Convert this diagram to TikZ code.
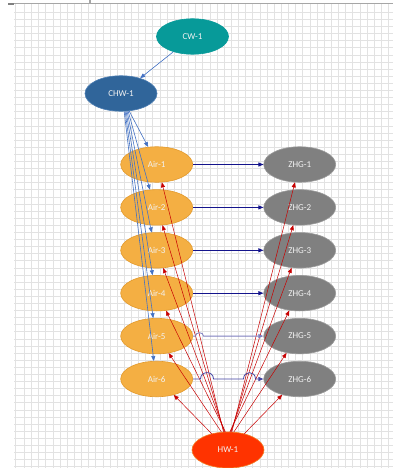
\documentclass[tikz,border=0pt]{standalone}
\usepackage{fontspec}
\setmainfont{Carlito}
\usetikzlibrary{shapes.geometric,arrows.meta}

\definecolor{gridline}{HTML}{E2E2E2}
\definecolor{frameline}{HTML}{A6A6A6}
\definecolor{cwfill}{HTML}{079A99}
\definecolor{chwfill}{HTML}{30659A}
\definecolor{chwedge}{HTML}{4B7DB3}
\definecolor{airfill}{HTML}{F4AF43}
\definecolor{airedge}{HTML}{E39A2C}
\definecolor{zhgfill}{HTML}{808080}
\definecolor{zhgedge}{HTML}{9A9A9A}
\definecolor{hwfill}{HTML}{FF3300}
\definecolor{hwedge}{HTML}{F47A20}
\definecolor{labeltext}{HTML}{F2F2F2}
\definecolor{chillblue}{HTML}{4472C4}
\definecolor{supplyblue}{HTML}{14148C}
\definecolor{heatred}{HTML}{C80000}

\tikzset{
  bubble/.style={ellipse, minimum width=72pt, minimum height=35.5pt, inner sep=0pt,
    font=\fontsize{9}{10}\selectfont, text=labeltext, line width=0.6pt},
  cwnode/.style={bubble, fill=cwfill, draw=cwfill},
  chwnode/.style={bubble, fill=chwfill, draw=chwedge},
  airnode/.style={bubble, fill=airfill, draw=airedge},
  zhgnode/.style={bubble, fill=zhgfill, draw=zhgedge},
  hwnode/.style={bubble, fill=hwfill, draw=hwedge, minimum height=36pt},
  tip/.style={-{Triangle[length=5pt,width=4pt]}},
  chill/.style={tip, draw=chillblue, line width=0.6pt},
  supply/.style={tip, draw=supplyblue, line width=0.8pt},
  heat/.style={tip, draw=heatred, line width=0.5pt}
}

\begin{document}
\begin{tikzpicture}[x=1pt, y=-1pt]
\useasboundingbox (0,0) rectangle (393,468);
\fill[white] (0,0) rectangle (393,468);

% worksheet grid
\draw[gridline, line width=0.65pt] (15,4) -- (15,468);
\foreach \k in {0,...,51} {
  \draw[gridline, line width=0.65pt] ({24.3+7.14*\k},4) -- ({24.3+7.14*\k},468);
}
\foreach \k in {0,...,64} {
  \draw[gridline, line width=0.65pt] (14,{12.3+7.1*\k}) -- (393,{12.3+7.1*\k});
}

% window frame at the top
\draw[frameline, line width=1.2pt] (8,3.5) -- (393,3.5);
\draw[gray, line width=2pt] (8,4) -- (14,4);
\draw[frameline, line width=1.2pt] (90,0) -- (90,3.5);

% plant
\node[cwnode]  (cw)  at (192.5,36.5) {CW-1};
\node[chwnode] (chw) at (121,93.5)   {CHW-1};
\node[hwnode]  (hw)  at (228,450)    {HW-1};

% air handlers and reheat groups
\foreach \i/\y in {1/164.5, 2/207.4, 3/250.3, 4/293.2, 5/336.1, 6/379} {
  \node[airnode] (air\i) at (156.7,\y) {Air-\i};
  \node[zhgnode] (zhg\i) at (299.7,\y) {ZHG-\i};
}

% chilled water
\draw[chill] (cw) -- (chw);
\draw[chill] (chw.-65) -- (air1.116);
\draw[chill] (chw.-68) -- (air2.111);
\draw[chill] (chw.-71) -- (air3.106);
\draw[chill] (chw.-74) -- (air4.103);
\draw[chill] (chw.-77) -- (air5.101);
\draw[chill] (chw.-80) -- (air6.99);

% hot water
\draw[heat] (hw.104) -- (air1.-74);
\draw[heat] (hw.102) -- (air2.-72);
\draw[heat] (hw.100) -- (air3.-70);
\draw[heat] (hw.98)  -- (air4.-62);
\draw[heat] (hw.110) -- (air5.-55);
\draw[heat] (hw.135) -- (air6.-43);
\draw[heat] (hw.78)  -- (zhg1.-105);
\draw[heat] (hw.80)  -- (zhg2.-110);
\draw[heat] (hw.82)  -- (zhg3.-115);
\draw[heat] (hw.84)  -- (zhg4.-121);
\draw[heat] (hw.72)  -- (zhg5.-128);
\draw[heat] (hw.45)  -- (zhg6.-138);

% supply air, with line hops over the hot water pipes
\draw[supply] (air1) -- (zhg1);
\draw[supply] (air2) -- (zhg2);
\draw[supply] (air3) -- (zhg3);
\draw[supply] (air4) -- (zhg4);
\draw[supply, draw=supplyblue!55] (air5.east) -- ++(2.5,0)
  .. controls +(0,-4.5) and +(0,-4.5) .. ++(8,0) -- (zhg5.west);
\draw[supply, draw=supplyblue!80] (air6.east) -- ++(7.5,0)
  .. controls +(0,-8.5) and +(0,-8.5) .. ++(13,0) -- ++(30,0)
  .. controls +(0,-8.5) and +(0,-8.5) .. ++(12,0) -- (zhg6.west);
\end{tikzpicture}
\end{document}
